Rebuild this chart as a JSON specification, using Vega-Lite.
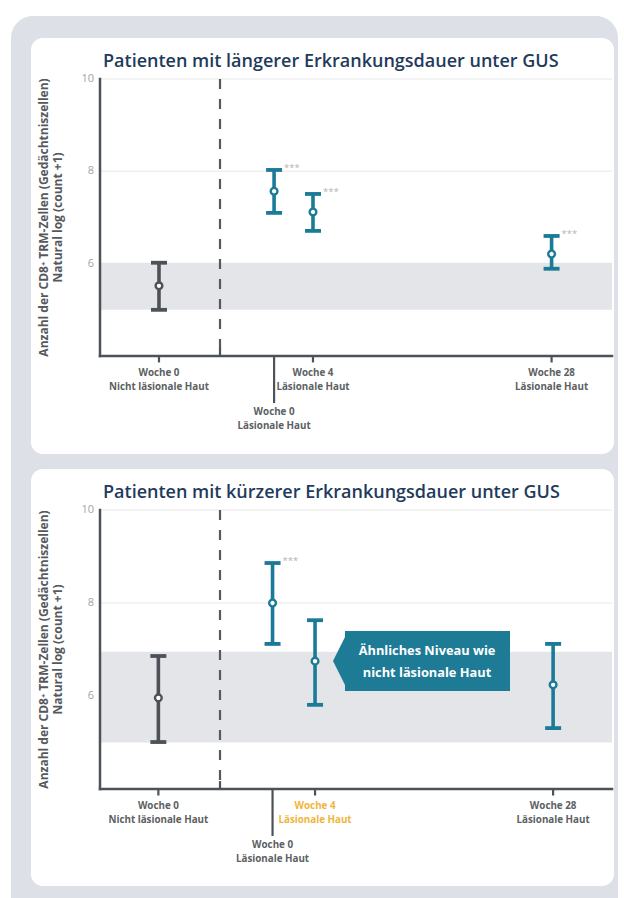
{
  "$schema": "https://vega.github.io/schema/vega-lite/v6.json",
  "background": "white",
  "padding": {"left": 11, "top": 15, "right": 6, "bottom": 0},
  "autosize": {"type": "pad"},
  "bounds": "flush",
  "spacing": 154,
  "config": {"view": {"stroke": null}},
  "datasets": {
    "cards": [
      {"panel": "top", "kind": "outer", "x1": -1.738, "x2": 10.117, "y1": 11.365, "y2": -7.762},
      {"panel": "top", "kind": "card", "x1": -1.348, "x2": 10.039, "y1": 10.888, "y2": 1.877},
      {"panel": "bottom", "kind": "card", "x1": -1.348, "x2": 10.039, "y1": 10.882, "y2": 1.914}
    ],
    "titles": [
      {"panel": "top", "pos": 0.059, "yv": 10.26, "text": "Patienten mit längerer Erkrankungsdauer unter GUS"},
      {"panel": "bottom", "pos": 0.059, "yv": 10.258, "text": "Patienten mit kürzerer Erkrankungsdauer unter GUS"}
    ],
    "axislines": [
      {"panel": "top", "x1": 0, "x2": 0, "y1": 4, "y2": 10},
      {"panel": "top", "x1": 0, "x2": 10, "y1": 4, "y2": 4},
      {"panel": "bottom", "x1": 0, "x2": 0, "y1": 4, "y2": 10},
      {"panel": "bottom", "x1": 0, "x2": 10, "y1": 4, "y2": 4}
    ],
    "ylabels": [
      {"panel": "top", "pos": 0, "yv": 10, "text": "10"},
      {"panel": "top", "pos": 0, "yv": 8, "text": "8"},
      {"panel": "top", "pos": 0, "yv": 6, "text": "6"},
      {"panel": "bottom", "pos": 0, "yv": 10, "text": "10"},
      {"panel": "bottom", "pos": 0, "yv": 8, "text": "8"},
      {"panel": "bottom", "pos": 0, "yv": 6, "text": "6"}
    ],
    "ytitles": [
      {"panel": "top", "pos": -1.084, "yv": 7, "text": "Anzahl der CD8⁺ TRM-Zellen (Gedächtniszellen)"},
      {"panel": "top", "pos": -0.82, "yv": 7, "text": "Natural log (count +1)"},
      {"panel": "bottom", "pos": -1.084, "yv": 7, "text": "Anzahl der CD8⁺ TRM-Zellen (Gedächtniszellen)"},
      {"panel": "bottom", "pos": -0.82, "yv": 7, "text": "Natural log (count +1)"}
    ],
    "bands": [
      {"panel": "top", "x1": 0, "x2": 10, "lo": 5.0, "hi": 6.02},
      {"panel": "bottom", "x1": 0, "x2": 10, "lo": 5.0, "hi": 6.95}
    ],
    "grid": [
      {"panel": "top", "x1": 0, "x2": 10, "yv": 8},
      {"panel": "top", "x1": 0, "x2": 10, "yv": 10},
      {"panel": "bottom", "x1": 0, "x2": 10, "yv": 8},
      {"panel": "bottom", "x1": 0, "x2": 10, "yv": 10}
    ],
    "dividers": [
      {"panel": "top", "pos": 2.344, "y1": 4, "y2": 10},
      {"panel": "bottom", "pos": 2.344, "y1": 4, "y2": 10}
    ],
    "xticks": [
      {"panel": "top", "pos": 1.152, "y1": 4, "y2": 3.86},
      {"panel": "top", "pos": 2.344, "y1": 4, "y2": 4.17},
      {"panel": "top", "pos": 3.40, "y1": 4, "y2": 2.98},
      {"panel": "top", "pos": 4.16, "y1": 4, "y2": 3.86},
      {"panel": "top", "pos": 8.82, "y1": 4, "y2": 3.86},
      {"panel": "bottom", "pos": 1.14, "y1": 4, "y2": 3.86},
      {"panel": "bottom", "pos": 2.344, "y1": 4, "y2": 4.17},
      {"panel": "bottom", "pos": 3.37, "y1": 4, "y2": 2.99},
      {"panel": "bottom", "pos": 4.2, "y1": 4, "y2": 3.86},
      {"panel": "bottom", "pos": 8.85, "y1": 4, "y2": 3.86}
    ],
    "xlabels": [
      {"panel": "top", "pos": 1.152, "yv": 3.632, "text": "Woche 0", "hl": "n"},
      {"panel": "top", "pos": 1.152, "yv": 3.329, "text": "Nicht läsionale Haut", "hl": "n"},
      {"panel": "top", "pos": 3.40, "yv": 2.787, "text": "Woche 0", "hl": "n"},
      {"panel": "top", "pos": 3.40, "yv": 2.484, "text": "Läsionale Haut", "hl": "n"},
      {"panel": "top", "pos": 4.16, "yv": 3.632, "text": "Woche 4", "hl": "n"},
      {"panel": "top", "pos": 4.16, "yv": 3.329, "text": "Läsionale Haut", "hl": "n"},
      {"panel": "top", "pos": 8.82, "yv": 3.632, "text": "Woche 28", "hl": "n"},
      {"panel": "top", "pos": 8.82, "yv": 3.329, "text": "Läsionale Haut", "hl": "n"},
      {"panel": "bottom", "pos": 1.14, "yv": 3.634, "text": "Woche 0", "hl": "n"},
      {"panel": "bottom", "pos": 1.14, "yv": 3.333, "text": "Nicht läsionale Haut", "hl": "n"},
      {"panel": "bottom", "pos": 3.37, "yv": 2.796, "text": "Woche 0", "hl": "n"},
      {"panel": "bottom", "pos": 3.37, "yv": 2.495, "text": "Läsionale Haut", "hl": "n"},
      {"panel": "bottom", "pos": 4.2, "yv": 3.634, "text": "Woche 4", "hl": "g"},
      {"panel": "bottom", "pos": 4.2, "yv": 3.333, "text": "Läsionale Haut", "hl": "g"},
      {"panel": "bottom", "pos": 8.85, "yv": 3.634, "text": "Woche 28", "hl": "n"},
      {"panel": "bottom", "pos": 8.85, "yv": 3.333, "text": "Läsionale Haut", "hl": "n"}
    ],
    "bars": [
      {"panel": "top", "pos": 1.152, "lo": 5.0, "mid": 5.52, "hi": 6.02, "grp": "Nicht läsional", "star": ""},
      {"panel": "top", "pos": 3.40, "lo": 7.10, "mid": 7.57, "hi": 8.03, "grp": "Läsional", "star": "***"},
      {"panel": "top", "pos": 4.16, "lo": 6.71, "mid": 7.12, "hi": 7.51, "grp": "Läsional", "star": "***"},
      {"panel": "top", "pos": 8.82, "lo": 5.89, "mid": 6.21, "hi": 6.60, "grp": "Läsional", "star": "***"},
      {"panel": "bottom", "pos": 1.14, "lo": 5.01, "mid": 5.96, "hi": 6.86, "grp": "Nicht läsional", "star": ""},
      {"panel": "bottom", "pos": 3.37, "lo": 7.12, "mid": 8.0, "hi": 8.86, "grp": "Läsional", "star": "***"},
      {"panel": "bottom", "pos": 4.2, "lo": 5.81, "mid": 6.75, "hi": 7.63, "grp": "Läsional", "star": ""},
      {"panel": "bottom", "pos": 8.85, "lo": 5.31, "mid": 6.24, "hi": 7.12, "grp": "Läsional", "star": ""}
    ],
    "callout": [
      {"panel": "bottom", "x1": 4.785, "x2": 8.008, "y1": 7.398, "y2": 6.108}
    ],
    "arrow": [
      {"panel": "bottom", "pos": 4.668, "yv": 6.753}
    ],
    "callout_text": [
      {"panel": "bottom", "pos": 6.387, "yv": 6.968, "text": "Ähnliches Niveau wie"},
      {"panel": "bottom", "pos": 6.387, "yv": 6.495, "text": "nicht läsionale Haut"}
    ]
  },
  "vconcat": [
    {
      "width": 512,
      "height": 277,
      "layer": [
        {
          "data": {"name": "cards"},
          "transform": [{"filter": "datum.panel == 'top' && datum.kind == 'outer'"}],
          "mark": {"type": "rect", "color": "#dde0e7", "cornerRadiusTopLeft": 22, "cornerRadiusTopRight": 22},
          "encoding": {
            "x": {"field": "x1", "type": "quantitative", "scale": {"domain": [0, 10], "nice": false, "zero": false}, "axis": null},
            "x2": {"field": "x2"},
            "y": {"field": "y1", "type": "quantitative", "scale": {"domain": [4, 10], "nice": false, "zero": false}, "axis": null},
            "y2": {"field": "y2"}
          }
        },
        {
          "data": {"name": "cards"},
          "transform": [{"filter": "datum.panel == 'top' && datum.kind == 'card'"}],
          "mark": {"type": "rect", "color": "white", "cornerRadius": 12},
          "encoding": {
            "x": {"field": "x1", "type": "quantitative", "scale": {"domain": [0, 10], "nice": false, "zero": false}, "axis": null},
            "x2": {"field": "x2"},
            "y": {"field": "y1", "type": "quantitative", "scale": {"domain": [4, 10], "nice": false, "zero": false}, "axis": null},
            "y2": {"field": "y2"}
          }
        },
        {
          "data": {"name": "bands"},
          "transform": [{"filter": "datum.panel == 'top'"}],
          "mark": {"type": "rect", "color": "#e4e5e8"},
          "encoding": {
            "x": {"field": "x1", "type": "quantitative", "scale": {"domain": [0, 10], "nice": false, "zero": false}, "axis": null},
            "x2": {"field": "x2"},
            "y": {"field": "lo", "type": "quantitative", "scale": {"domain": [4, 10], "nice": false, "zero": false}, "axis": null},
            "y2": {"field": "hi"}
          }
        },
        {
          "data": {"name": "grid"},
          "transform": [{"filter": "datum.panel == 'top'"}],
          "mark": {"type": "rule", "color": "#efefef", "strokeWidth": 1.5},
          "encoding": {
            "x": {"field": "x1", "type": "quantitative", "scale": {"domain": [0, 10], "nice": false, "zero": false}, "axis": null},
            "x2": {"field": "x2"},
            "y": {"field": "yv", "type": "quantitative", "scale": {"domain": [4, 10], "nice": false, "zero": false}, "axis": null}
          }
        },
        {
          "data": {"name": "dividers"},
          "transform": [{"filter": "datum.panel == 'top'"}],
          "mark": {"type": "rule", "color": "#555a60", "strokeWidth": 2.2, "strokeDash": [10, 10]},
          "encoding": {
            "x": {"field": "pos", "type": "quantitative", "scale": {"domain": [0, 10], "nice": false, "zero": false}, "axis": null},
            "y": {"field": "y2", "type": "quantitative", "scale": {"domain": [4, 10], "nice": false, "zero": false}, "axis": null},
            "y2": {"field": "y1"}
          }
        },
        {
          "data": {"name": "axislines"},
          "transform": [{"filter": "datum.panel == 'top'"}],
          "mark": {"type": "rule", "color": "#4d5259", "strokeWidth": 2.5, "strokeCap": "square"},
          "encoding": {
            "x": {"field": "x1", "type": "quantitative", "scale": {"domain": [0, 10], "nice": false, "zero": false}, "axis": null},
            "x2": {"field": "x2"},
            "y": {"field": "y1", "type": "quantitative", "scale": {"domain": [4, 10], "nice": false, "zero": false}, "axis": null},
            "y2": {"field": "y2"}
          }
        },
        {
          "data": {"name": "xticks"},
          "transform": [{"filter": "datum.panel == 'top'"}],
          "mark": {"type": "rule", "color": "#4d5259", "strokeWidth": 2.2},
          "encoding": {
            "x": {"field": "pos", "type": "quantitative", "scale": {"domain": [0, 10], "nice": false, "zero": false}, "axis": null},
            "y": {"field": "y1", "type": "quantitative", "scale": {"domain": [4, 10], "nice": false, "zero": false}, "axis": null},
            "y2": {"field": "y2"}
          }
        },
        {
          "data": {"name": "ylabels"},
          "transform": [{"filter": "datum.panel == 'top'"}],
          "mark": {"type": "text", "font": "Open Sans", "fontSize": 11, "color": "#a3a3a3", "align": "right", "baseline": "middle", "dx": -6},
          "encoding": {
            "x": {"field": "pos", "type": "quantitative", "scale": {"domain": [0, 10], "nice": false, "zero": false}, "axis": null},
            "y": {"field": "yv", "type": "quantitative", "scale": {"domain": [4, 10], "nice": false, "zero": false}, "axis": null},
            "text": {"field": "text"}
          }
        },
        {
          "data": {"name": "ytitles"},
          "transform": [{"filter": "datum.panel == 'top'"}],
          "mark": {"type": "text", "font": "Open Sans", "fontWeight": "bold", "fontSize": 12, "color": "#55595e", "align": "center", "baseline": "middle", "angle": 270},
          "encoding": {
            "x": {"field": "pos", "type": "quantitative", "scale": {"domain": [0, 10], "nice": false, "zero": false}, "axis": null},
            "y": {"field": "yv", "type": "quantitative", "scale": {"domain": [4, 10], "nice": false, "zero": false}, "axis": null},
            "text": {"field": "text"}
          }
        },
        {
          "data": {"name": "titles"},
          "transform": [{"filter": "datum.panel == 'top'"}],
          "mark": {"type": "text", "font": "Open Sans", "fontWeight": 600, "fontSize": 18, "color": "#1f3b5c", "align": "left", "baseline": "alphabetic"},
          "encoding": {
            "x": {"field": "pos", "type": "quantitative", "scale": {"domain": [0, 10], "nice": false, "zero": false}, "axis": null},
            "y": {"field": "yv", "type": "quantitative", "scale": {"domain": [4, 10], "nice": false, "zero": false}, "axis": null},
            "text": {"field": "text"}
          }
        },
        {
          "data": {"name": "xlabels"},
          "transform": [{"filter": "datum.panel == 'top'"}],
          "mark": {"type": "text", "font": "Open Sans", "fontWeight": "bold", "fontSize": 9.8, "align": "center", "baseline": "middle"},
          "encoding": {
            "x": {"field": "pos", "type": "quantitative", "scale": {"domain": [0, 10], "nice": false, "zero": false}, "axis": null},
            "y": {"field": "yv", "type": "quantitative", "scale": {"domain": [4, 10], "nice": false, "zero": false}, "axis": null},
            "text": {"field": "text"},
            "fill": {"field": "hl", "type": "nominal", "scale": {"domain": ["n", "g"], "range": ["#5c5f63", "#efb63b"]}, "legend": null}
          }
        },
        {
          "data": {"name": "bars"},
          "transform": [{"filter": "datum.panel == 'top'"}],
          "mark": {"type": "rule", "strokeWidth": 3.6},
          "encoding": {
            "x": {"field": "pos", "type": "quantitative", "scale": {"domain": [0, 10], "nice": false, "zero": false}, "axis": null},
            "y": {"field": "lo", "type": "quantitative", "scale": {"domain": [4, 10], "nice": false, "zero": false}, "axis": null},
            "y2": {"field": "hi"},
            "color": {"field": "grp", "type": "nominal", "scale": {"domain": ["Nicht läsional", "Läsional"], "range": ["#4d5259", "#1a7a98"]}, "legend": null}
          }
        },
        {
          "data": {"name": "bars"},
          "transform": [{"filter": "datum.panel == 'top'"}, {"fold": ["lo", "hi"], "as": ["end", "val"]}],
          "mark": {"type": "tick", "orient": "horizontal", "size": 16, "thickness": 3.8, "opacity": 1},
          "encoding": {
            "x": {"field": "pos", "type": "quantitative", "scale": {"domain": [0, 10], "nice": false, "zero": false}, "axis": null},
            "y": {"field": "val", "type": "quantitative", "scale": {"domain": [4, 10], "nice": false, "zero": false}, "axis": null},
            "color": {"field": "grp", "type": "nominal", "scale": {"domain": ["Nicht läsional", "Läsional"], "range": ["#4d5259", "#1a7a98"]}, "legend": null}
          }
        },
        {
          "data": {"name": "bars"},
          "transform": [{"filter": "datum.panel == 'top'"}],
          "mark": {"type": "point", "shape": "circle", "filled": true, "fill": "white", "strokeWidth": 2.4, "size": 45, "opacity": 1},
          "encoding": {
            "x": {"field": "pos", "type": "quantitative", "scale": {"domain": [0, 10], "nice": false, "zero": false}, "axis": null},
            "y": {"field": "mid", "type": "quantitative", "scale": {"domain": [4, 10], "nice": false, "zero": false}, "axis": null},
            "stroke": {"field": "grp", "type": "nominal", "scale": {"domain": ["Nicht läsional", "Läsional"], "range": ["#4d5259", "#1a7a98"]}, "legend": null}
          }
        },
        {
          "data": {"name": "bars"},
          "transform": [{"filter": "datum.panel == 'top' && datum.star != ''"}],
          "mark": {"type": "text", "align": "left", "baseline": "middle", "dx": 10, "dy": -2, "fontSize": 9.5, "font": "Open Sans", "color": "#b3b3b3"},
          "encoding": {
            "x": {"field": "pos", "type": "quantitative", "scale": {"domain": [0, 10], "nice": false, "zero": false}, "axis": null},
            "y": {"field": "hi", "type": "quantitative", "scale": {"domain": [4, 10], "nice": false, "zero": false}, "axis": null},
            "text": {"field": "star"}
          }
        }
      ]
    },
    {
      "width": 512,
      "height": 279,
      "layer": [
        {
          "data": {"name": "cards"},
          "transform": [{"filter": "datum.panel == 'bottom' && datum.kind == 'card'"}],
          "mark": {"type": "rect", "color": "white", "cornerRadius": 12},
          "encoding": {
            "x": {"field": "x1", "type": "quantitative", "scale": {"domain": [0, 10], "nice": false, "zero": false}, "axis": null},
            "x2": {"field": "x2"},
            "y": {"field": "y1", "type": "quantitative", "scale": {"domain": [4, 10], "nice": false, "zero": false}, "axis": null},
            "y2": {"field": "y2"}
          }
        },
        {
          "data": {"name": "bands"},
          "transform": [{"filter": "datum.panel == 'bottom'"}],
          "mark": {"type": "rect", "color": "#e4e5e8"},
          "encoding": {
            "x": {"field": "x1", "type": "quantitative", "scale": {"domain": [0, 10], "nice": false, "zero": false}, "axis": null},
            "x2": {"field": "x2"},
            "y": {"field": "lo", "type": "quantitative", "scale": {"domain": [4, 10], "nice": false, "zero": false}, "axis": null},
            "y2": {"field": "hi"}
          }
        },
        {
          "data": {"name": "grid"},
          "transform": [{"filter": "datum.panel == 'bottom'"}],
          "mark": {"type": "rule", "color": "#efefef", "strokeWidth": 1.5},
          "encoding": {
            "x": {"field": "x1", "type": "quantitative", "scale": {"domain": [0, 10], "nice": false, "zero": false}, "axis": null},
            "x2": {"field": "x2"},
            "y": {"field": "yv", "type": "quantitative", "scale": {"domain": [4, 10], "nice": false, "zero": false}, "axis": null}
          }
        },
        {
          "data": {"name": "dividers"},
          "transform": [{"filter": "datum.panel == 'bottom'"}],
          "mark": {"type": "rule", "color": "#555a60", "strokeWidth": 2.2, "strokeDash": [10, 10]},
          "encoding": {
            "x": {"field": "pos", "type": "quantitative", "scale": {"domain": [0, 10], "nice": false, "zero": false}, "axis": null},
            "y": {"field": "y2", "type": "quantitative", "scale": {"domain": [4, 10], "nice": false, "zero": false}, "axis": null},
            "y2": {"field": "y1"}
          }
        },
        {
          "data": {"name": "axislines"},
          "transform": [{"filter": "datum.panel == 'bottom'"}],
          "mark": {"type": "rule", "color": "#4d5259", "strokeWidth": 2.5, "strokeCap": "square"},
          "encoding": {
            "x": {"field": "x1", "type": "quantitative", "scale": {"domain": [0, 10], "nice": false, "zero": false}, "axis": null},
            "x2": {"field": "x2"},
            "y": {"field": "y1", "type": "quantitative", "scale": {"domain": [4, 10], "nice": false, "zero": false}, "axis": null},
            "y2": {"field": "y2"}
          }
        },
        {
          "data": {"name": "xticks"},
          "transform": [{"filter": "datum.panel == 'bottom'"}],
          "mark": {"type": "rule", "color": "#4d5259", "strokeWidth": 2.2},
          "encoding": {
            "x": {"field": "pos", "type": "quantitative", "scale": {"domain": [0, 10], "nice": false, "zero": false}, "axis": null},
            "y": {"field": "y1", "type": "quantitative", "scale": {"domain": [4, 10], "nice": false, "zero": false}, "axis": null},
            "y2": {"field": "y2"}
          }
        },
        {
          "data": {"name": "ylabels"},
          "transform": [{"filter": "datum.panel == 'bottom'"}],
          "mark": {"type": "text", "font": "Open Sans", "fontSize": 11, "color": "#a3a3a3", "align": "right", "baseline": "middle", "dx": -6},
          "encoding": {
            "x": {"field": "pos", "type": "quantitative", "scale": {"domain": [0, 10], "nice": false, "zero": false}, "axis": null},
            "y": {"field": "yv", "type": "quantitative", "scale": {"domain": [4, 10], "nice": false, "zero": false}, "axis": null},
            "text": {"field": "text"}
          }
        },
        {
          "data": {"name": "ytitles"},
          "transform": [{"filter": "datum.panel == 'bottom'"}],
          "mark": {"type": "text", "font": "Open Sans", "fontWeight": "bold", "fontSize": 12, "color": "#55595e", "align": "center", "baseline": "middle", "angle": 270},
          "encoding": {
            "x": {"field": "pos", "type": "quantitative", "scale": {"domain": [0, 10], "nice": false, "zero": false}, "axis": null},
            "y": {"field": "yv", "type": "quantitative", "scale": {"domain": [4, 10], "nice": false, "zero": false}, "axis": null},
            "text": {"field": "text"}
          }
        },
        {
          "data": {"name": "titles"},
          "transform": [{"filter": "datum.panel == 'bottom'"}],
          "mark": {"type": "text", "font": "Open Sans", "fontWeight": 600, "fontSize": 18, "color": "#1f3b5c", "align": "left", "baseline": "alphabetic"},
          "encoding": {
            "x": {"field": "pos", "type": "quantitative", "scale": {"domain": [0, 10], "nice": false, "zero": false}, "axis": null},
            "y": {"field": "yv", "type": "quantitative", "scale": {"domain": [4, 10], "nice": false, "zero": false}, "axis": null},
            "text": {"field": "text"}
          }
        },
        {
          "data": {"name": "xlabels"},
          "transform": [{"filter": "datum.panel == 'bottom'"}],
          "mark": {"type": "text", "font": "Open Sans", "fontWeight": "bold", "fontSize": 9.8, "align": "center", "baseline": "middle"},
          "encoding": {
            "x": {"field": "pos", "type": "quantitative", "scale": {"domain": [0, 10], "nice": false, "zero": false}, "axis": null},
            "y": {"field": "yv", "type": "quantitative", "scale": {"domain": [4, 10], "nice": false, "zero": false}, "axis": null},
            "text": {"field": "text"},
            "fill": {"field": "hl", "type": "nominal", "scale": {"domain": ["n", "g"], "range": ["#5c5f63", "#efb63b"]}, "legend": null}
          }
        },
        {
          "data": {"name": "bars"},
          "transform": [{"filter": "datum.panel == 'bottom'"}],
          "mark": {"type": "rule", "strokeWidth": 3.6},
          "encoding": {
            "x": {"field": "pos", "type": "quantitative", "scale": {"domain": [0, 10], "nice": false, "zero": false}, "axis": null},
            "y": {"field": "lo", "type": "quantitative", "scale": {"domain": [4, 10], "nice": false, "zero": false}, "axis": null},
            "y2": {"field": "hi"},
            "color": {"field": "grp", "type": "nominal", "scale": {"domain": ["Nicht läsional", "Läsional"], "range": ["#4d5259", "#1a7a98"]}, "legend": null}
          }
        },
        {
          "data": {"name": "bars"},
          "transform": [{"filter": "datum.panel == 'bottom'"}, {"fold": ["lo", "hi"], "as": ["end", "val"]}],
          "mark": {"type": "tick", "orient": "horizontal", "size": 16, "thickness": 3.8, "opacity": 1},
          "encoding": {
            "x": {"field": "pos", "type": "quantitative", "scale": {"domain": [0, 10], "nice": false, "zero": false}, "axis": null},
            "y": {"field": "val", "type": "quantitative", "scale": {"domain": [4, 10], "nice": false, "zero": false}, "axis": null},
            "color": {"field": "grp", "type": "nominal", "scale": {"domain": ["Nicht läsional", "Läsional"], "range": ["#4d5259", "#1a7a98"]}, "legend": null}
          }
        },
        {
          "data": {"name": "bars"},
          "transform": [{"filter": "datum.panel == 'bottom'"}],
          "mark": {"type": "point", "shape": "circle", "filled": true, "fill": "white", "strokeWidth": 2.4, "size": 45, "opacity": 1},
          "encoding": {
            "x": {"field": "pos", "type": "quantitative", "scale": {"domain": [0, 10], "nice": false, "zero": false}, "axis": null},
            "y": {"field": "mid", "type": "quantitative", "scale": {"domain": [4, 10], "nice": false, "zero": false}, "axis": null},
            "stroke": {"field": "grp", "type": "nominal", "scale": {"domain": ["Nicht läsional", "Läsional"], "range": ["#4d5259", "#1a7a98"]}, "legend": null}
          }
        },
        {
          "data": {"name": "bars"},
          "transform": [{"filter": "datum.panel == 'bottom' && datum.star != ''"}],
          "mark": {"type": "text", "align": "left", "baseline": "middle", "dx": 10, "dy": -2, "fontSize": 9.5, "font": "Open Sans", "color": "#b3b3b3"},
          "encoding": {
            "x": {"field": "pos", "type": "quantitative", "scale": {"domain": [0, 10], "nice": false, "zero": false}, "axis": null},
            "y": {"field": "hi", "type": "quantitative", "scale": {"domain": [4, 10], "nice": false, "zero": false}, "axis": null},
            "text": {"field": "star"}
          }
        },
        {
          "data": {"name": "callout"},
          "mark": {"type": "rect", "color": "#1d7b96"},
          "encoding": {
            "x": {"field": "x1", "type": "quantitative", "scale": {"domain": [0, 10], "nice": false, "zero": false}, "axis": null},
            "x2": {"field": "x2"},
            "y": {"field": "y1", "type": "quantitative", "scale": {"domain": [4, 10], "nice": false, "zero": false}, "axis": null},
            "y2": {"field": "y2"}
          }
        },
        {
          "data": {"name": "arrow"},
          "mark": {"type": "point", "shape": "M0.3,-1 L-0.2,0 L0.3,1 Z", "filled": true, "color": "#1d7b96", "size": 3600, "opacity": 1, "strokeWidth": 0},
          "encoding": {
            "x": {"field": "pos", "type": "quantitative", "scale": {"domain": [0, 10], "nice": false, "zero": false}, "axis": null},
            "y": {"field": "yv", "type": "quantitative", "scale": {"domain": [4, 10], "nice": false, "zero": false}, "axis": null}
          }
        },
        {
          "data": {"name": "callout_text"},
          "mark": {"type": "text", "font": "Open Sans", "fontWeight": "bold", "fontSize": 12.8, "color": "white", "align": "center", "baseline": "middle"},
          "encoding": {
            "x": {"field": "pos", "type": "quantitative", "scale": {"domain": [0, 10], "nice": false, "zero": false}, "axis": null},
            "y": {"field": "yv", "type": "quantitative", "scale": {"domain": [4, 10], "nice": false, "zero": false}, "axis": null},
            "text": {"field": "text"}
          }
        }
      ]
    }
  ]
}
